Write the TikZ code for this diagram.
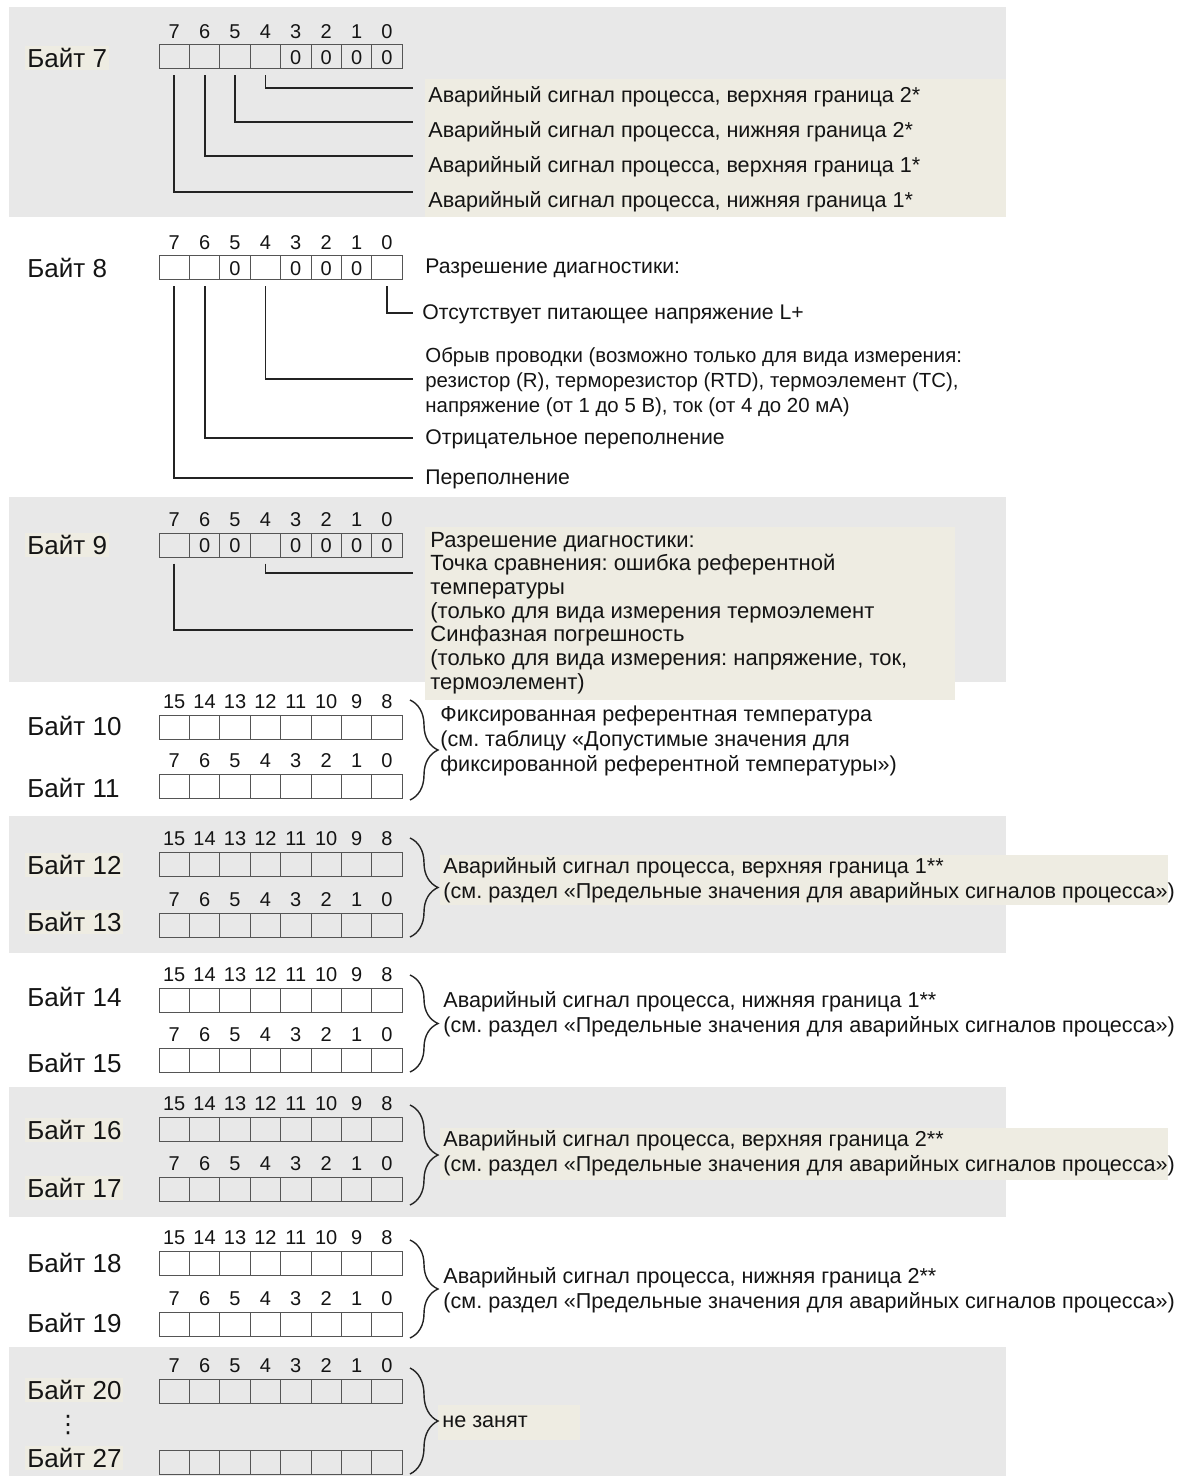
\documentclass[tikz,border=0pt]{standalone}
\usepackage{fontspec}
\setmainfont{Liberation Sans}
\newfontfamily\symfont{DejaVu Sans}
\usetikzlibrary{positioning, decorations.pathreplacing}
\definecolor{bandGray}{RGB}{232, 232, 232}
\definecolor{noteFill}{RGB}{238, 236, 226}
\definecolor{cellLine}{RGB}{85, 85, 85}
\definecolor{leadLine}{RGB}{35, 35, 35}
\definecolor{inkColor}{RGB}{20, 20, 20}
\frenchspacing

\begin{document}
\begin{tikzpicture}[x=0.5pt, y=-0.5pt,
    every node/.style={text=inkColor, inner sep=0pt},
    cell/.style={rectangle, draw=cellLine, line width=0.5pt, minimum width=15.2pt, minimum height=12pt},
    bitnum/.style={text height=7.2pt, text depth=0pt, font=\fontsize{10}{12}\selectfont},
    bytelabel/.style={anchor=west, inner sep=1pt, font=\fontsize{13}{15}\selectfont},
    marked/.style={fill=noteFill},
    plain/.style={},
    note/.style={anchor=west, align=left, font=\fontsize{10.8}{12.3}\selectfont},
    leader/.style={draw=leadLine, line width=0.9pt, shorten <=3pt},
    bracket/.style={draw=leadLine, line width=0.7pt, decorate, decoration={brace, amplitude=14pt}}]
    \useasboundingbox (0,0) rectangle (1184,1476);

    % серые полосы и подложки текста
    \fill[bandGray] (9,7) rectangle (1006,217);
    \fill[bandGray] (9,497) rectangle (1006,682);
    \fill[bandGray] (9,816) rectangle (1006,953);
    \fill[bandGray] (9,1087) rectangle (1006,1217);
    \fill[bandGray] (9,1347) rectangle (1006,1476);
    \fill[noteFill] (425,79) rectangle (1006,217);
    \fill[noteFill] (425,527) rectangle (955,700);
    \fill[noteFill] (440,855) rectangle (1168,905);
    \fill[noteFill] (440,1128) rectangle (1168,1180);
    \fill[noteFill] (438,1405) rectangle (580,1440);

    % ячейки битов
    \foreach \row/\y in {7/57, 8/268, 9/545, 10/727, 11/786, 12/864, 13/925, 14/1000,
                         15/1060, 16/1129, 17/1189, 18/1263, 19/1324, 20/1391, 27/1462}
        \foreach \bit in {0,...,7}
            \node[cell] (r\row-\bit) at ({159+30.4*(7.5-\bit)}, \y) {};

    % номера битов
    \foreach \row in {7, 8, 9, 11, 13, 15, 17, 19, 20}
        \foreach \bit in {0,...,7}
            \node[bitnum, above=3pt of r\row-\bit] (h\row-\bit) {\bit};
    \foreach \row in {10, 12, 14, 16, 18}
        \foreach \bit in {0,...,7} {
            \pgfmathtruncatemacro\hibit{\bit+8}
            \node[bitnum, above=3pt of r\row-\bit] (h\row-\bit) {\hibit};
        }

    % нули в ячейках
    \foreach \row/\bit in {7/0, 7/1, 7/2, 7/3, 8/1, 8/2, 8/3, 8/5,
                           9/0, 9/1, 9/2, 9/3, 9/5, 9/6}
        \node[bitnum] (z\row-\bit) at (r\row-\bit) {0};

    % подписи байтов
    \foreach \row/\y/\look in {7/58/marked, 8/268/plain, 9/545/marked, 10/726/plain,
                               11/788/plain, 12/865/marked, 13/922/marked, 14/997/plain,
                               15/1063/plain, 16/1130/marked, 17/1188/marked, 18/1263/plain,
                               19/1323/plain, 20/1390/marked, 27/1458/marked}
        \node[bytelabel, \look] (lab\row) at (25,\y) {Байт \row};
    \node[font=\symfont\fontsize{12}{14}\selectfont] (dots) at (68,1425) {⋮};

    % байт 7
    \node[note] (n7a) at (428,97) {Аварийный сигнал процесса, верхняя граница 2*};
    \node[note] (n7b) at (428,132) {Аварийный сигнал процесса, нижняя граница 2*};
    \node[note] (n7c) at (428,167) {Аварийный сигнал процесса, верхняя граница 1*};
    \node[note] (n7d) at (428,202) {Аварийный сигнал процесса, нижняя граница 1*};
    \coordinate (e7-4) at (413,88);
    \coordinate (e7-5) at (413,122);
    \coordinate (e7-6) at (413,156);
    \coordinate (e7-7) at (413,192);
    \foreach \bit in {4,...,7}
        \draw[leader] (r7-\bit.south) |- (e7-\bit);

    % байт 8
    \node[note, font=\fontsize{10.6}{12.3}\selectfont] (n8a) at (425,268) {Разрешение диагностики:};
    \node[note, font=\fontsize{10.6}{12.3}\selectfont] (n8b) at (422,314) {Отсутствует питающее напряжение L+};
    \node[note, font=\fontsize{10.2}{12.6}\selectfont] (n8c) at (425,382)
        {Обрыв проводки (возможно только для вида измерения:\\
         резистор (R), терморезистор (RTD), термоэлемент (TC),\\
         напряжение (от 1 до 5 В), ток (от 4 до 20 мА)};
    \node[note, font=\fontsize{10.6}{12.3}\selectfont] (n8d) at (425,439) {Отрицательное переполнение};
    \node[note, font=\fontsize{10.6}{12.3}\selectfont] (n8e) at (425,479) {Переполнение};
    \coordinate (e8-0) at (413,313);
    \coordinate (e8-4) at (413,379);
    \coordinate (e8-6) at (413,438);
    \coordinate (e8-7) at (413,478);
    \foreach \bit in {0,4,6,7}
        \draw[leader] (r8-\bit.south) |- (e8-\bit);

    % байт 9
    \node[note, font=\fontsize{11}{11.85}\selectfont] (n9) at (430,613)
        {Разрешение диагностики:\\
         Точка сравнения: ошибка референтной\\
         температуры\\
         (только для вида измерения термоэлемент\\
         Синфазная погрешность\\
         (только для вида измерения: напряжение, ток,\\
         термоэлемент)};
    \coordinate (e9-4) at (413,573);
    \coordinate (e9-7) at (413,630);
    \foreach \bit in {4,7}
        \draw[leader] (r9-\bit.south) |- (e9-\bit);

    % фигурные скобки
    \foreach \grp/\top/\bot in {10/700/800, 12/838/937, 14/975/1072, 16/1105/1205,
                                18/1240/1338, 20/1368/1474} {
        \coordinate (bt\grp) at (410,\top);
        \coordinate (bb\grp) at (410,\bot);
        \draw[bracket] (bt\grp) -- (bb\grp);
    }

    \node[note] (n10) at (440,741)
        {Фиксированная референтная температура\\
         (см. таблицу «Допустимые значения для\\
         фиксированной референтной температуры»)};
    \node[note] (n12) at (443,880)
        {Аварийный сигнал процесса, верхняя граница 1**\\
         (см. раздел «Предельные значения для аварийных сигналов процесса»)};
    \node[note] (n14) at (443,1014)
        {Аварийный сигнал процесса, нижняя граница 1**\\
         (см. раздел «Предельные значения для аварийных сигналов процесса»)};
    \node[note] (n16) at (443,1153)
        {Аварийный сигнал процесса, верхняя граница 2**\\
         (см. раздел «Предельные значения для аварийных сигналов процесса»)};
    \node[note] (n18) at (443,1290)
        {Аварийный сигнал процесса, нижняя граница 2**\\
         (см. раздел «Предельные значения для аварийных сигналов процесса»)};
    \node[note] (n20) at (442,1422) {не занят};
\end{tikzpicture}
\end{document}
